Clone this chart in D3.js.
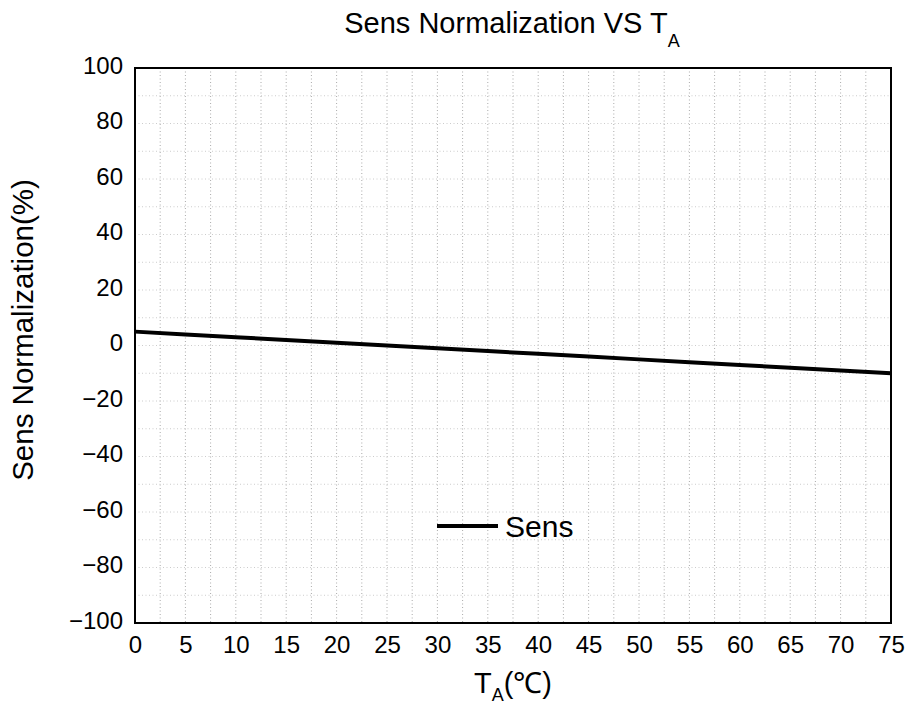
<!DOCTYPE html>
<html><head><meta charset="utf-8">
<script src="https://cdn.jsdelivr.net/npm/d3@7/dist/d3.min.js"></script>
<style>body{margin:0;background:#fff}text{font-family:"Liberation Sans",Arial,sans-serif;fill:#000}</style>
</head><body>
<svg id="c" width="907" height="706"></svg>
<script>
const temps = [0, 5, 10, 15, 20, 25, 30, 35, 40, 45, 50, 55, 60, 65, 70, 75];
const sens  = [5, 4, 3, 2, 1, 0, -1, -2, -3, -4, -5, -6, -7, -8, -9, -10];
const xTicks = [0,5,10,15,20,25,30,35,40,45,50,55,60,65,70,75];
const yTicks = [-100,-80,-60,-40,-20,0,20,40,60,80,100];
const seriesName = "Sens";

const svg = d3.select("#c");
const L=135, R=891, T=68, B=623;
const x = d3.scaleLinear().domain([0,75]).range([L,R]);
const y = d3.scaleLinear().domain([-100,100]).range([B,T]);

// grid
const g = svg.append("g");
d3.range(0, 75.01, 2.5).forEach(v=>{
  g.append("line").attr("x1",x(v)).attr("x2",x(v)).attr("y1",T).attr("y2",B)
   .attr("stroke","#aaa").attr("stroke-width",1).attr("stroke-dasharray","1,2.5");
});
d3.range(-100, 100.01, 10).forEach(v=>{
  g.append("line").attr("x1",L).attr("x2",R).attr("y1",y(v)).attr("y2",y(v))
   .attr("stroke","#ccc").attr("stroke-width",1).attr("stroke-dasharray","1,2.5");
});

// data line
svg.append("path").datum(temps.map((t,i)=>[t,sens[i]]))
  .attr("d", d3.line().x(d=>x(d[0])).y(d=>y(d[1])))
  .attr("fill","none").attr("stroke","#000").attr("stroke-width",4);

// frame
svg.append("rect").attr("x",L).attr("y",T).attr("width",R-L).attr("height",B-T)
  .attr("fill","none").attr("stroke","#000").attr("stroke-width",2);

// axes labels
const xa = svg.append("g").attr("transform",`translate(0,${B})`)
  .call(d3.axisBottom(x).tickValues(xTicks).tickSize(0).tickPadding(0).tickFormat(d3.format("d")));
xa.select(".domain").remove();
xa.selectAll("text").attr("y",30).attr("dy",0).style("font-size","24px")
  .style("font-family",'"Liberation Sans",Arial,sans-serif');

const ya = svg.append("g").attr("transform",`translate(${L},0)`)
  .call(d3.axisLeft(y).tickValues(yTicks).tickSize(0).tickPadding(12)
  .tickFormat(d=>d<0?"\u2212"+Math.abs(d):String(d)));
ya.select(".domain").remove();
ya.selectAll("text").attr("dy","0.22em").style("font-size","24px")
  .style("font-family",'"Liberation Sans",Arial,sans-serif');

// title
const tt = svg.append("text").attr("x",512).attr("y",33).attr("text-anchor","middle").style("font-size","29px");
tt.append("tspan").text("Sens Normalization VS T");
tt.append("tspan").attr("dy",14).style("font-size","18px").text("A");

// x label
const xl = svg.append("text").attr("x",513).attr("y",693).attr("text-anchor","middle").style("font-size","29px");
xl.append("tspan").text("T");
xl.append("tspan").attr("dy",8).style("font-size","18px").text("A");
xl.append("tspan").attr("dy",-8).text("(\u2103)");

// y label
svg.append("text").attr("transform","translate(33,330) rotate(-90)").attr("text-anchor","middle")
  .style("font-size","29.5px").text("Sens Normalization(%)");

// legend
svg.append("line").attr("x1",437).attr("x2",498).attr("y1",526).attr("y2",526)
  .attr("stroke","#000").attr("stroke-width",4);
svg.append("text").attr("x",505).attr("y",537).style("font-size","30px").text(seriesName);
</script>
</body></html>
